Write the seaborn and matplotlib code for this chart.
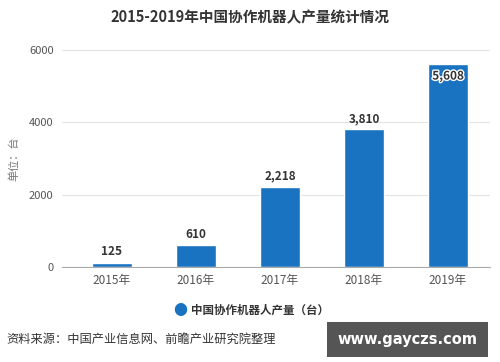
import matplotlib.pyplot as plt
import matplotlib.patheffects as pe
import pandas as pd
import seaborn as sns

# data
years = ['2015年', '2016年', '2017年', '2018年', '2019年']
output = [125, 610, 2218, 3810, 5608]
value_labels = ['125', '610', '2,218', '3,810', '5,608']
yticks = [0, 2000, 4000, 6000]

df = pd.DataFrame({'year': years, 'value': output})

sns.set_style('white')
plt.rcParams['font.family'] = ['Noto Sans CJK SC', 'DejaVu Sans']

fig = plt.figure(figsize=(5.0, 3.62), dpi=100)
ax = fig.add_axes([0.124, 0.262, 0.856, 0.600])

bar_color = '#1a73c0'
sns.barplot(data=df, x='year', y='value', color=bar_color, width=0.476,
            saturation=1, ax=ax)

ax.set_xlim(-0.595, 4.5)
ax.set_ylim(0, 6000)
ax.set_yticks(yticks)
ax.set_yticklabels([str(t) for t in yticks])
ax.yaxis.grid(True, color='#e3e3e3', linewidth=0.8)
ax.set_axisbelow(True)
for s in ['top', 'right', 'left']:
    ax.spines[s].set_visible(False)
ax.spines['bottom'].set_color('#aaaaaa')
ax.tick_params(axis='y', length=0, labelsize=8, colors='#555555', pad=6)
ax.tick_params(axis='x', length=3, color='#aaaaaa', labelsize=8.5,
               colors='#555555', pad=2)
ax.set_xlabel('')
ax.set_ylabel('单位：台', fontsize=8, color='#777777', labelpad=7)

# value labels
for i, (v, lab) in enumerate(zip(output, value_labels)):
    if i == len(output) - 1:
        t = ax.text(i, v - 150, lab, ha='center', va='top', fontsize=8.5,
                    fontweight='bold', color='#333333')
        t.set_path_effects([pe.withStroke(linewidth=2, foreground='white')])
    else:
        ax.text(i, v + 120, lab, ha='center', va='bottom', fontsize=8.5,
                fontweight='bold', color='#333333')

fig.suptitle('2015-2019年中国协作机器人产量统计情况', y=0.975, fontsize=10.5,
             fontweight='bold', color='#333333')

# legend
fig.text(0.36, 0.142, '●', fontsize=10, color=bar_color, ha='center', va='center')
fig.text(0.382, 0.142, '中国协作机器人产量（台）', fontsize=8.3, fontweight='bold',
         color='#333333', ha='left', va='center')

# source
fig.text(0.012, 0.062, '资料来源：中国产业信息网、前瞻产业研究院整理', fontsize=8.8,
         color='#333333', ha='left', va='center')

fig.text(0.675, 0.062, 'www.gayczs.com', fontsize=10.5, fontweight='bold',
         color='white', ha='left', va='center', family='DejaVu Sans',
         bbox=dict(boxstyle='square,pad=0.7', fc='#555555', ec='none'))

fig.savefig('out.png', dpi=100)
